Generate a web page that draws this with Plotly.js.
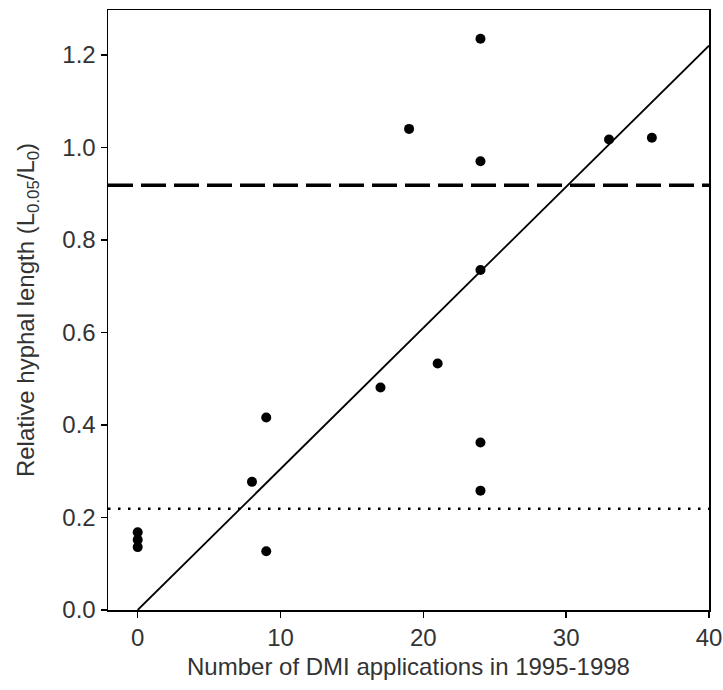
<!DOCTYPE html>
<html>
<head>
<meta charset="utf-8">
<script src="https://cdn.plot.ly/plotly-3.0.1.min.js"></script>
<style>html,body{margin:0;padding:0;background:#fff;}#chart{width:723px;height:690px;}</style>
</head>
<body>
<div id="chart"></div>
<script>
// Observed data: number of DMI applications vs relative hyphal length
const applications = [0, 0, 0, 8, 9, 9, 17, 19, 21, 24, 24, 24, 24, 24, 33, 36];
const relLength    = [0.168, 0.152, 0.136, 0.277, 0.416, 0.127, 0.481, 1.040, 0.533, 1.235, 0.970, 0.735, 0.362, 0.258, 1.017, 1.021];

// Regression line end points
const fitX = [0, 40];
const fitY = [0, 1.22];

// Reference threshold levels
const dashedLevel = 0.918;
const dottedLevel = 0.219;

const xTicks = [0, 10, 20, 30, 40];
const yTicks = [0.0, 0.2, 0.4, 0.6, 0.8, 1.0, 1.2];

const fontFam = '"Liberation Sans", Arial, Helvetica, sans-serif';

const traces = [
  {
    x: fitX, y: fitY, type: 'scatter', mode: 'lines',
    line: {color: '#000', width: 1.8}, hoverinfo: 'skip', showlegend: false
  },
  {
    x: applications, y: relLength, type: 'scatter', mode: 'markers',
    marker: {color: '#000', size: 10}, showlegend: false
  }
];

const layout = {
  width: 723, height: 690,
  margin: {l: 108, r: 14, t: 10, b: 80},
  paper_bgcolor: '#fff', plot_bgcolor: '#fff',
  font: {family: fontFam, color: '#333', size: 24},
  showlegend: false,
  xaxis: {
    range: [-2.08, 40], tickvals: xTicks, ticktext: xTicks.map(String),
    showgrid: false, zeroline: false,
    showline: true, mirror: true, linecolor: '#000', linewidth: 1.5,
    ticks: 'outside', ticklen: 6, tickwidth: 1.5, tickcolor: '#000',
    tickfont: {size: 24, color: '#333', family: fontFam},
    title: {text: 'Number of DMI applications in 1995-1998', font: {size: 24, color: '#333', family: fontFam}, standoff: 8}
  },
  yaxis: {
    range: [0, 1.297], tickvals: yTicks, ticktext: yTicks.map(v => v.toFixed(1)),
    showgrid: false, zeroline: false,
    showline: true, mirror: true, linecolor: '#000', linewidth: 1.5,
    ticks: 'outside', ticklen: 6, tickwidth: 1.5, tickcolor: '#000',
    tickfont: {size: 24, color: '#333', family: fontFam},
    title: {text: 'Relative hyphal length (L<sub>0.05</sub>/L<sub>0</sub>)', font: {size: 24, color: '#333', family: fontFam}, standoff: 21}
  },
  shapes: [
    {type: 'line', xref: 'paper', yref: 'y', x0: 0, x1: 1, y0: dashedLevel, y1: dashedLevel,
     line: {color: '#000', width: 3.5, dash: '25px,8px'}},
    {type: 'line', xref: 'paper', yref: 'y', x0: 0, x1: 1, y0: dottedLevel, y1: dottedLevel,
     line: {color: '#000', width: 2.5, dash: '2.5px,7.5px'}}
  ]
};

Plotly.newPlot('chart', traces, layout, {displayModeBar: false, staticPlot: true});
</script>
</body>
</html>
